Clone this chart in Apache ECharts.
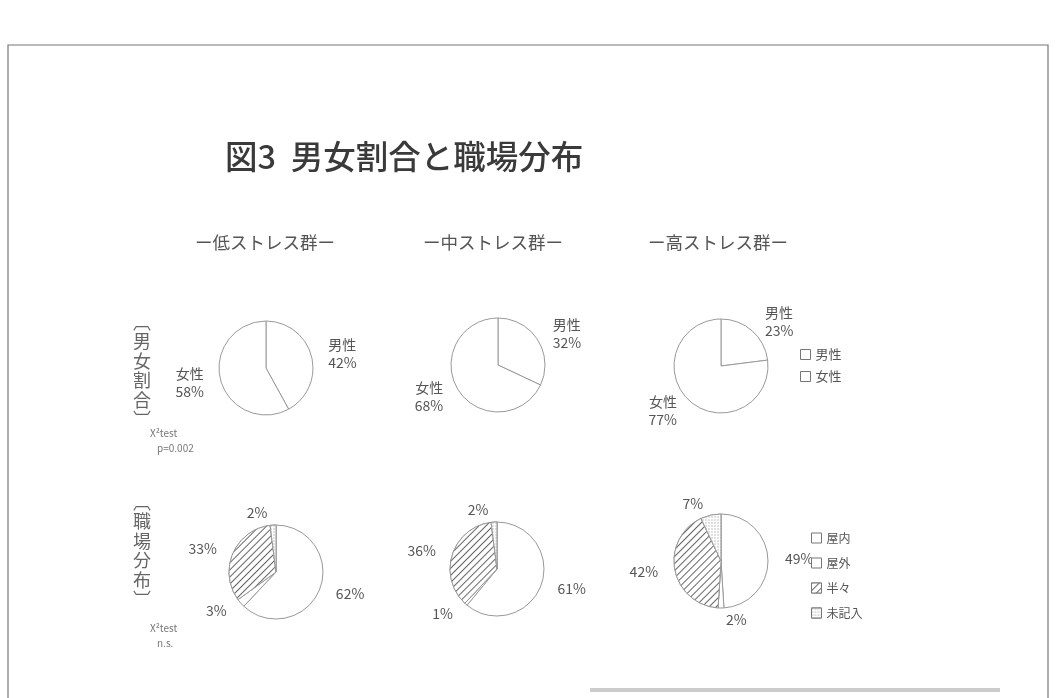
<!DOCTYPE html>
<html>
<head>
<meta charset="utf-8">
<script src="https://cdn.jsdelivr.net/npm/echarts@6/dist/echarts.min.js"></script>
<style>
html,body{margin:0;padding:0;background:#fff;}
#main{width:1057px;height:698px;}
</style>
</head>
<body>
<div id="main"></div>
<script>
// ---- data ----
const titleText = '図3  男女割合と職場分布';
const groups = ['ー低ストレス群ー', 'ー中ストレス群ー', 'ー高ストレス群ー'];
const sexNames = ['男性', '女性'];
const sexValues = [[42, 58], [32, 68], [23, 77]];
const placeNames = ['屋内', '屋外', '半々', '未記入'];
const placeValues = [[62, 3, 33, 2], [61, 1, 36, 2], [49, 2, 42, 7]];
const rowLabels = ['︹\n男\n女\n割\n合\n︺', '︹\n職\n場\n分\n布\n︺'];
const testLabels = [['X²test', 'p=0.002'], ['X²test', 'n.s.']];

// ---- layout ----
const FONT = '"Noto Sans CJK JP", "Noto Sans", sans-serif';
const TXT = '#555';
const colX = [266, 498, 721];
const row1Y = [368, 365, 366];
const row2Centers = [[276, 572], [497, 569], [721, 561]];
const R = 47;

const hatch = {
  symbol: 'rect', symbolSize: 1,
  dashArrayX: [[1, 0]], dashArrayY: [1, 3.5],
  rotation: -Math.PI / 4, color: '#666', backgroundColor: '#fff'
};
const dots = {
  symbol: 'circle', symbolSize: 0.7,
  dashArrayX: [[2, 1]], dashArrayY: [2, 1], color: '#aaa', backgroundColor: '#fff'
};
const placeDecal = [null, null, hatch, dots];

const base = {
  type: 'pie', radius: R, startAngle: 90, clockwise: true,
  avoidLabelOverlap: false, animation: false,
  emphasis: { disabled: true },
  itemStyle: { color: '#fff', borderColor: '#999', borderWidth: 1 },
  labelLine: { show: false, length: 12, length2: 0 },
  label: { position: 'outside', color: TXT, fontFamily: FONT, fontSize: 14, lineHeight: 18 }
};

const series = [];
sexValues.forEach((vals, i) => {
  series.push(Object.assign({}, base, {
    center: [colX[i], row1Y[i]],
    label: Object.assign({}, base.label, { formatter: p => p.name + '\n' + p.value + '%' }),
    data: vals.map((v, k) => ({ name: sexNames[k], value: v }))
  }));
});
placeValues.forEach((vals, i) => {
  series.push(Object.assign({}, base, {
    center: row2Centers[i],
    label: Object.assign({}, base.label, { formatter: p => p.value + '%' }),
    data: vals.map((v, k) => {
      const d = { name: placeNames[k], value: v };
      if (placeDecal[k]) d.itemStyle = { decal: placeDecal[k] };
      return d;
    })
  }));
});

const graphics = [
  { type: 'rect', shape: { x: 8, y: 45, width: 1040, height: 700 }, style: { fill: 'none', stroke: '#777', lineWidth: 1.2 }, silent: true },
  { type: 'rect', shape: { x: 590, y: 688, width: 410, height: 4 }, style: { fill: '#ccc' }, silent: true },
  { type: 'text', left: 225, top: 140, style: { text: titleText, font: '500 32.5px ' + FONT, fill: '#3a3a3a' } }
];
groups.forEach((g, i) => {
  graphics.push({ type: 'text', x: [265, 493, 718][i], y: 242,
    style: { text: g, fontFamily: FONT, fontSize: 17.5, fill: TXT, align: 'center', verticalAlign: 'middle' } });
});
rowLabels.forEach((t, i) => {
  graphics.push({ type: 'text', x: 142, y: [312, 492][i],
    style: { text: t, fontFamily: FONT, fontSize: 18, lineHeight: 19.5, fill: '#666', align: 'center' } });
});
testLabels.forEach((t, i) => {
  const y = [433, 628][i];
  graphics.push({ type: 'text', x: 150, y: y, style: { text: t[0], fontFamily: FONT, fontSize: 10, fill: '#777', verticalAlign: 'middle' } });
  graphics.push({ type: 'text', x: 157, y: y + 15, style: { text: t[1], fontFamily: FONT, fontSize: 10, fill: '#777', verticalAlign: 'middle' } });
});

const chart = echarts.init(document.getElementById('main'), null, { renderer: 'canvas' });
chart.setOption({
  backgroundColor: '#fff',
  animation: false,
  legend: [
    { data: sexNames, orient: 'vertical', left: 795, top: 343, itemWidth: 10, itemHeight: 10, itemGap: 9,
      icon: 'rect', selectedMode: false,
      itemStyle: { borderColor: '#777', borderWidth: 1 },
      textStyle: { color: TXT, fontFamily: FONT, fontSize: 13 } },
    { data: placeNames, orient: 'vertical', left: 806, top: 527, itemWidth: 10, itemHeight: 10, itemGap: 13,
      icon: 'rect', selectedMode: false,
      itemStyle: { borderColor: '#777', borderWidth: 1 },
      textStyle: { color: TXT, fontFamily: FONT, fontSize: 12 } }
  ],
  series: series,
  graphic: graphics
});
</script>
</body>
</html>
